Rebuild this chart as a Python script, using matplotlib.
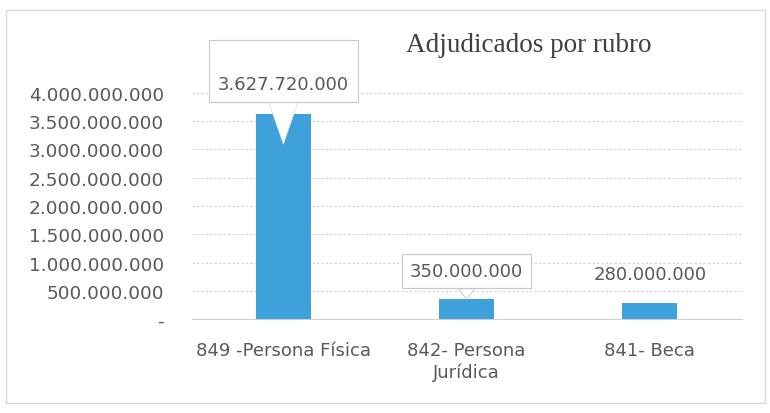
import matplotlib.pyplot as plt
from matplotlib.patches import Rectangle
from matplotlib.ticker import FuncFormatter
from matplotlib.transforms import offset_copy

# data
categories = ['849 -Persona Física', '842- Persona\nJurídica', '841- Beca']
values = [3627720000, 350000000, 280000000]
value_labels = ['3.627.720.000', '350.000.000', '280.000.000']
boxed = [True, True, False]
tall_box = [True, False, False]
yticks = [0, 500000000, 1000000000, 1500000000, 2000000000,
          2500000000, 3000000000, 3500000000, 4000000000]


def fmt(v, pos):
    if v == 0:
        return '-'
    return '{:,.0f}'.format(v).replace(',', '.')


fig = plt.figure(figsize=(7.7, 4.14), dpi=100)
ax = fig.add_axes([0.249, 0.227, 0.714, 0.546])

x = range(len(categories))
ax.bar(x, values, width=0.3, color='#3ea1d9', zorder=3)

ax.set_ylim(0, 4000000000)
ax.set_xlim(-0.5, len(categories) - 0.5)
ax.set_yticks(yticks)
ax.yaxis.set_major_formatter(FuncFormatter(fmt))
ax.set_xticks(list(x))
ax.set_xticklabels(categories, fontsize=13, color='#595959')
ax.tick_params(axis='y', length=0, pad=20, labelsize=13.3, labelcolor='#595959')
ax.tick_params(axis='x', length=0, pad=16)

# grid
ax.grid(axis='y', color='#d0d0d0', linestyle=(0, (2, 2)), linewidth=0.8, zorder=0)
for s in ['top', 'right', 'left']:
    ax.spines[s].set_visible(False)
ax.spines['bottom'].set_color('#d0d0d0')

# tail tips sit a little inside the bar
tip = offset_copy(ax.transData, fig=fig, x=0, y=-30, units='dots')

# data labels
for i, (v, lab, b, tall) in enumerate(zip(values, value_labels, boxed, tall_box)):
    if b and tall:
        ax.annotate('\n' + lab, xy=(i, v), xycoords=tip, xytext=(0, 73),
                    textcoords='offset pixels', ha='center', va='center',
                    fontsize=13, color='#595959', linespacing=1.6,
                    annotation_clip=False, zorder=5,
                    bbox=dict(boxstyle='square,pad=0.5', fc='white', ec='#c8c8c8', lw=0.8),
                    arrowprops=dict(arrowstyle='wedge,tail_width=1.6', fc='white',
                                    ec='#e0e0e0', lw=0.6, shrinkA=0, shrinkB=0))
    elif b:
        ax.annotate(lab, xy=(i, v), xytext=(0, 28), textcoords='offset pixels',
                    ha='center', va='center', fontsize=13, color='#595959',
                    annotation_clip=False, zorder=5,
                    bbox=dict(boxstyle='square,pad=0.45', fc='white', ec='#c8c8c8', lw=0.8),
                    arrowprops=dict(arrowstyle='wedge,tail_width=0.9', fc='white',
                                    ec='#c8c8c8', lw=0.6, shrinkA=0, shrinkB=0))
    else:
        ax.annotate(lab, xy=(i, v), xytext=(0, 29), textcoords='offset pixels',
                    ha='center', va='center', fontsize=13, color='#595959',
                    annotation_clip=False, zorder=5)

# title
fig.text(529 / 770, 1 - 45 / 414, 'Adjudicados por rubro', ha='center', va='center',
         fontsize=19.5, family='Liberation Serif', color='#404040')

# chart border
fig.patches.append(Rectangle((6 / 770, 10 / 414), 759 / 770, 393 / 414,
                             transform=fig.transFigure, fill=False,
                             ec='#d9d9d9', lw=1))

fig.savefig('out.png', dpi=100)
